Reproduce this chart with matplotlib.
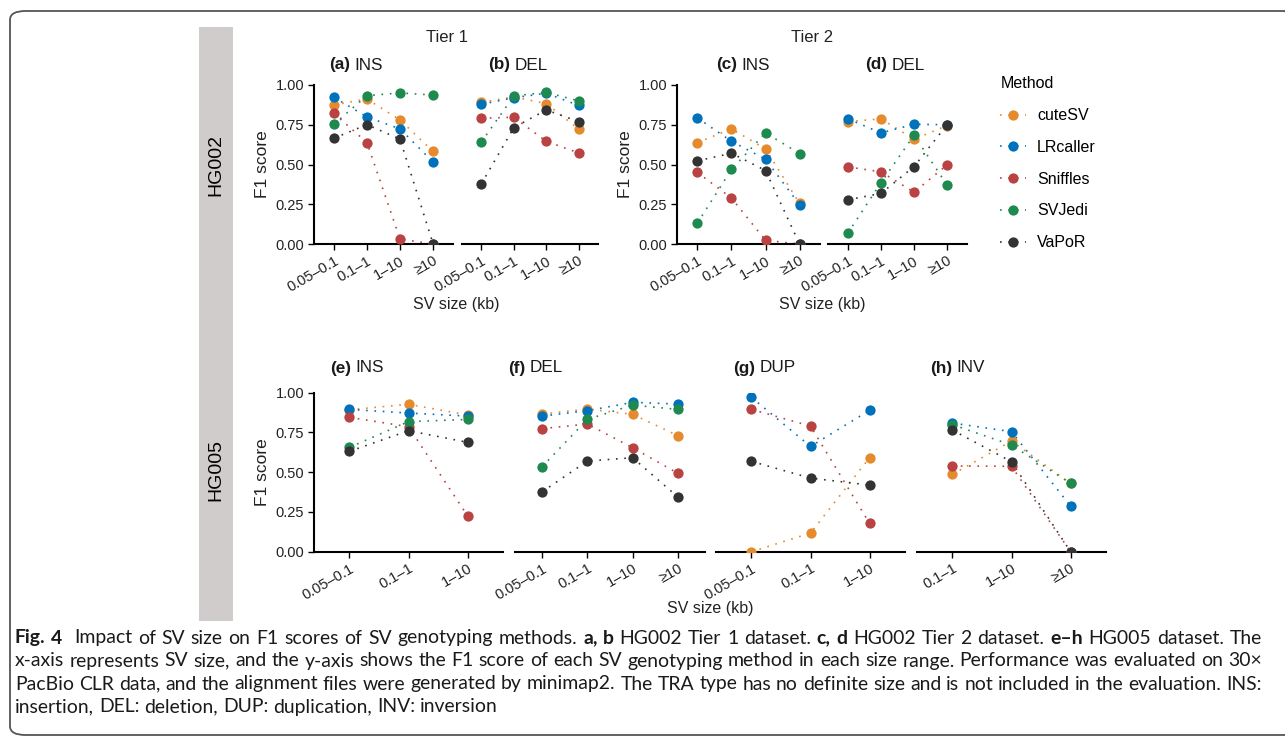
import numpy as np
import matplotlib
matplotlib.use("Agg")
import matplotlib.pyplot as plt
from matplotlib.patches import Rectangle, FancyBboxPatch
from matplotlib.lines import Line2D

# ---- data (F1 scores) ----
methods = ["cuteSV", "LRcaller", "Sniffles", "SVJedi", "VaPoR"]
colors = ["#E58B2D", "#0072BB", "#B94242", "#1F8A50", "#333333"]

sizes_all = ["0.05–0.1", "0.1–1", "1–10", "≥10"]
sizes_small = ["0.05–0.1", "0.1–1", "1–10"]
sizes_inv = ["0.1–1", "1–10", "≥10"]

# rows: cuteSV, LRcaller, Sniffles, SVJedi, VaPoR
hg002_t1_ins = [[0.875, 0.912, 0.780, 0.582],
                [0.923, 0.799, 0.724, 0.515],
                [0.822, 0.638, 0.031, 0.0],
                [0.753, 0.933, 0.950, 0.937],
                [0.665, 0.751, 0.659, 0.0]]
hg002_t1_del = [[0.891, 0.925, 0.883, 0.724],
                [0.879, 0.920, 0.948, 0.872],
                [0.791, 0.797, 0.646, 0.573],
                [0.642, 0.931, 0.954, 0.900],
                [0.379, 0.732, 0.843, 0.770]]
hg002_t2_ins = [[0.638, 0.724, 0.598, 0.255],
                [0.793, 0.646, 0.533, 0.247],
                [0.450, 0.289, 0.023, 0.0],
                [0.132, 0.469, 0.699, 0.569],
                [0.523, 0.571, 0.462, 0.0]]
hg002_t2_del = [[0.770, 0.787, 0.659, 0.745],
                [0.787, 0.699, 0.753, 0.750],
                [0.485, 0.454, 0.326, 0.498],
                [0.069, 0.385, 0.684, 0.370],
                [0.278, 0.318, 0.487, 0.751]]
hg005_ins = [[0.893, 0.927, 0.860],
             [0.895, 0.872, 0.853],
             [0.845, 0.786, 0.226],
             [0.656, 0.818, 0.832],
             [0.631, 0.761, 0.688]]
hg005_del = [[0.866, 0.897, 0.864, 0.730],
             [0.853, 0.887, 0.939, 0.929],
             [0.774, 0.803, 0.654, 0.493],
             [0.535, 0.832, 0.922, 0.895],
             [0.377, 0.570, 0.591, 0.344]]
hg005_dup = [[0.0, 0.117, 0.591],
             [0.971, 0.662, 0.889],
             [0.895, 0.790, 0.178],
             [np.nan, np.nan, np.nan],
             [0.568, 0.463, 0.419]]
hg005_inv = [[0.486, 0.696, 0.430],
             [0.809, 0.755, 0.287],
             [0.539, 0.537, 0.0],
             [0.799, 0.671, 0.430],
             [0.765, 0.566, 0.0]]

caption = [
    "**Fig. 4**  Impact of SV size on F1 scores of SV genotyping methods. **a, b** HG002 Tier 1 dataset. "
    "**c, d** HG002 Tier 2 dataset. **e–h** HG005 dataset. The",
    "x-axis represents SV size, and the y-axis shows the F1 score of each SV genotyping method in each "
    "size range. Performance was evaluated on 30×",
    "PacBio CLR data, and the alignment files were generated by minimap2. The TRA type has no definite "
    "size and is not included in the evaluation. INS:",
    "insertion, DEL: deletion, DUP: duplication, INV: inversion",
]

# ---- figure ----
W, H = 1285, 740
plt.rcParams["font.family"] = ["Liberation Sans", "DejaVu Sans"]
fig = plt.figure(figsize=(W / 100, H / 100), dpi=100)
renderer = fig.canvas.get_renderer()


def fx(px):
    return px / W


def fy(py):
    return 1 - py / H


def rect(x0, x1, ytop, ybot):
    return [fx(x0), fy(ybot), (x1 - x0) / W, (ybot - ytop) / H]


DOT = (0, (1, 4))
TXT = "#222222"


def panel(box, cats, vals, show_y):
    ax = fig.add_axes(rect(*box))
    x = np.arange(len(cats))
    for v, c in zip(vals, colors):
        ax.plot(x, v, ls=DOT, lw=1.2, color=c, zorder=2)
    for v, c in zip(vals, colors):
        ax.plot(x, v, "o", ms=7.4, color=c, mec="none", zorder=3)
    ax.set_xlim(-0.6, len(cats) - 0.4)
    ax.set_ylim(0, 1)
    ax.set_xticks(x)
    ax.set_xticklabels(cats, rotation=30, ha="right", rotation_mode="anchor",
                       fontsize=10.5, color=TXT)
    ax.set_yticks([0, 0.25, 0.5, 0.75, 1.0])
    ax.set_yticklabels(["0.00", "0.25", "0.50", "0.75", "1.00"], fontsize=10.5, color=TXT)
    ax.tick_params(length=4, width=1.0, pad=3)
    for s in ["top", "right"]:
        ax.spines[s].set_visible(False)
    ax.spines["bottom"].set_linewidth(1.5)
    ax.spines["left"].set_linewidth(1.5)
    if show_y:
        ax.set_ylabel("F1 score", fontsize=12.5, color=TXT, labelpad=4)
    else:
        ax.spines["left"].set_visible(False)
        ax.tick_params(left=False, labelleft=False)
    ax.set_facecolor("none")
    return ax


top = (85, 244)
bot = (392.7, 551.7)
panel((314, 453, *top), sizes_all, hg002_t1_ins, True)
panel((462, 598, *top), sizes_all, hg002_t1_del, False)
panel((677, 820, *top), sizes_all, hg002_t2_ins, True)
panel((828, 967, *top), sizes_all, hg002_t2_del, False)
panel((314, 503, *bot), sizes_small, hg005_ins, True)
panel((515, 705, *bot), sizes_all, hg005_del, False)
panel((716, 905, *bot), sizes_small, hg005_dup, False)
panel((917, 1106, *bot), sizes_inv, hg005_inv, False)


def text_width(s, **kw):
    t = fig.text(0, 0, s, **kw)
    w = t.get_window_extent(renderer=renderer).width
    t.remove()
    return w


def rich(x, y, line, size, family, extra=0.0, draw=True):
    """draw (or measure) text where **...** marks bold runs; returns end x"""
    parts = line.split("**")
    sp = {}
    for wt in ["normal", "bold"]:
        kw = dict(fontsize=size, family=family, fontweight=wt)
        sp[wt] = text_width("a a", **kw) - text_width("aa", **kw)
    for i, seg in enumerate(parts):
        wt = "bold" if i % 2 else "normal"
        kw = dict(fontsize=size, family=family, fontweight=wt)
        words = seg.split(" ")
        for j, wd in enumerate(words):
            if j > 0:
                x += sp[wt] + extra
            if wd:
                if draw:
                    t = fig.text(fx(x), fy(y), wd, va="center", ha="left",
                                 color="#1a1a1a", **kw)
                    x += t.get_window_extent(renderer=renderer).width
                else:
                    x += text_width(wd, **kw)
    return x


# panel titles
titles = [(329, 65, "**(a)** INS"), (488, 65, "**(b)** DEL"), (716, 65, "**(c)** INS"),
          (865, 65, "**(d)** DEL"), (330, 368, "**(e)** INS"), (508, 368, "**(f)** DEL"),
          (733, 368, "**(g)** DUP"), (930, 368, "**(h)** INV")]
for x, y, s in titles:
    rich(x, y, s, 12.3, ["Liberation Sans", "DejaVu Sans"])

fig.text(fx(447), fy(38), "Tier 1", ha="center", va="center", fontsize=12, color=TXT)
fig.text(fx(812), fy(38), "Tier 2", ha="center", va="center", fontsize=12, color=TXT)
for x, y in [(456, 305), (822, 305), (710, 608)]:
    fig.text(fx(x), fy(y), "SV size (kb)", ha="center", va="center", fontsize=11.5, color=TXT)

# legend
handles = [Line2D([], [], color=c, ls=DOT, lw=1.2, marker="o", ms=7.4, mec="none")
           for c in colors]
fig.legend(handles, methods, title="Method", loc="upper left",
           bbox_to_anchor=(fx(986), fy(62)), frameon=False, fontsize=11.5,
           title_fontsize=11.5, handlelength=1.6, labelspacing=1.05,
           alignment="left", handletextpad=0.7, borderpad=0.4)

# side band with dataset names
fig.add_artist(Rectangle((fx(199), fy(621)), 34 / W, (621 - 27) / H,
                         transform=fig.transFigure, color="#D0CCCB", lw=0))
fig.text(fx(216), fy(165), "HG002", rotation=90, ha="center", va="center", fontsize=14)
fig.text(fx(216), fy(470), "HG005", rotation=90, ha="center", va="center", fontsize=14)

# outer frame
fig.add_artist(FancyBboxPatch((fx(10), fy(735)), (1300 - 10) / W, (735 - 11) / H,
                              boxstyle="round,pad=0,rounding_size=0.012",
                              transform=fig.transFigure, fill=False,
                              ec="#555555", lw=1.3))

# caption, justified like the journal layout
cap_font = ["Lato", "DejaVu Sans"]
x_left, x_right = 15, 1262
cap_size = 14
widest = max(rich(x_left, 0, ln, cap_size, cap_font, draw=False) for ln in caption[:3]) - x_left
if widest > x_right - x_left:
    cap_size *= (x_right - x_left) / widest
for k, (line, y) in enumerate(zip(caption, [638, 661, 684, 707])):
    extra = 0.0
    if k < 3:
        natural = rich(x_left, y, line, cap_size, cap_font, draw=False) - x_left
        extra = (x_right - x_left - natural) / max(line.count(" "), 1)
    rich(x_left, y, line, cap_size, cap_font, extra=extra)

fig.savefig("out.png", dpi=100)
